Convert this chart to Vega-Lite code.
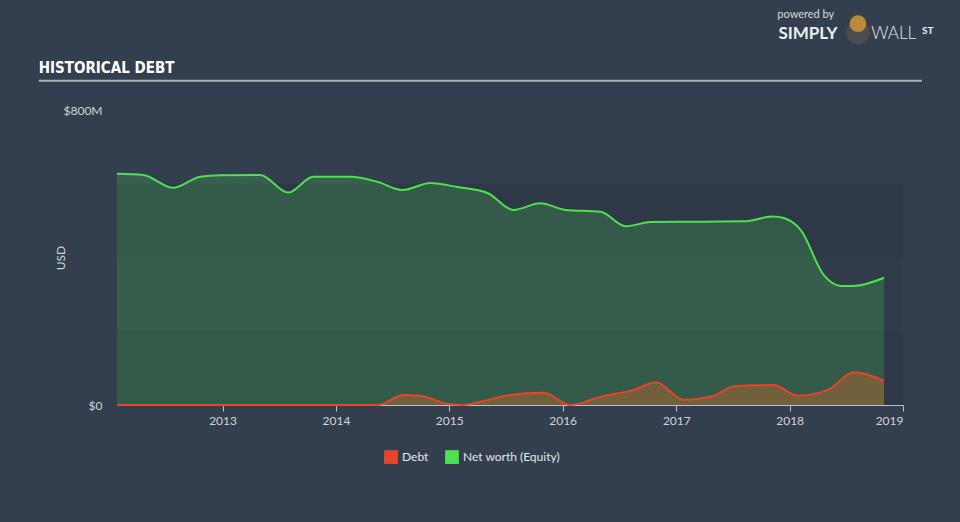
{
  "$schema": "https://vega.github.io/schema/vega-lite/v6.json",
  "width": 786,
  "height": 295,
  "autosize": {"type": "none"},
  "padding": {"left": 117, "top": 110, "right": 57, "bottom": 117},
  "background": "#333f4f",
  "config": {"view": {"stroke": null}, "font": "Lato"},
  "datasets": {
    "series": [
      {"date": "2012-01-27", "series": "Net worth (Equity)", "value": 627},
      {"date": "2012-04-20", "series": "Net worth (Equity)", "value": 624},
      {"date": "2012-07-26", "series": "Net worth (Equity)", "value": 589},
      {"date": "2012-10-21", "series": "Net worth (Equity)", "value": 619},
      {"date": "2012-12-25", "series": "Net worth (Equity)", "value": 623},
      {"date": "2013-05-02", "series": "Net worth (Equity)", "value": 624},
      {"date": "2013-07-31", "series": "Net worth (Equity)", "value": 576},
      {"date": "2013-10-20", "series": "Net worth (Equity)", "value": 619},
      {"date": "2014-02-17", "series": "Net worth (Equity)", "value": 619},
      {"date": "2014-05-15", "series": "Net worth (Equity)", "value": 605},
      {"date": "2014-08-04", "series": "Net worth (Equity)", "value": 583},
      {"date": "2014-11-01", "series": "Net worth (Equity)", "value": 602},
      {"date": "2015-01-27", "series": "Net worth (Equity)", "value": 591},
      {"date": "2015-05-04", "series": "Net worth (Equity)", "value": 575},
      {"date": "2015-07-26", "series": "Net worth (Equity)", "value": 529},
      {"date": "2015-10-21", "series": "Net worth (Equity)", "value": 547},
      {"date": "2016-01-10", "series": "Net worth (Equity)", "value": 529},
      {"date": "2016-05-02", "series": "Net worth (Equity)", "value": 524},
      {"date": "2016-07-22", "series": "Net worth (Equity)", "value": 485},
      {"date": "2016-10-11", "series": "Net worth (Equity)", "value": 496},
      {"date": "2017-03-20", "series": "Net worth (Equity)", "value": 497},
      {"date": "2017-08-07", "series": "Net worth (Equity)", "value": 498},
      {"date": "2017-11-08", "series": "Net worth (Equity)", "value": 511},
      {"date": "2017-12-13", "series": "Net worth (Equity)", "value": 507},
      {"date": "2018-02-06", "series": "Net worth (Equity)", "value": 474},
      {"date": "2018-04-21", "series": "Net worth (Equity)", "value": 352},
      {"date": "2018-06-15", "series": "Net worth (Equity)", "value": 323},
      {"date": "2018-07-27", "series": "Net worth (Equity)", "value": 323},
      {"date": "2018-11-01", "series": "Net worth (Equity)", "value": 345},
      {"date": "2012-01-27", "series": "Debt", "value": 0},
      {"date": "2014-05-15", "series": "Debt", "value": 0},
      {"date": "2014-08-07", "series": "Debt", "value": 27},
      {"date": "2014-09-30", "series": "Debt", "value": 25},
      {"date": "2014-12-26", "series": "Debt", "value": 3},
      {"date": "2015-02-16", "series": "Debt", "value": 0},
      {"date": "2015-04-21", "series": "Debt", "value": 11},
      {"date": "2015-07-17", "series": "Debt", "value": 27},
      {"date": "2015-10-31", "series": "Debt", "value": 33},
      {"date": "2016-01-26", "series": "Debt", "value": 0},
      {"date": "2016-05-02", "series": "Debt", "value": 22},
      {"date": "2016-08-17", "series": "Debt", "value": 41},
      {"date": "2016-10-27", "series": "Debt", "value": 62},
      {"date": "2017-01-25", "series": "Debt", "value": 14},
      {"date": "2017-05-02", "series": "Debt", "value": 25},
      {"date": "2017-07-05", "series": "Debt", "value": 51},
      {"date": "2017-11-11", "series": "Debt", "value": 54},
      {"date": "2018-01-27", "series": "Debt", "value": 25},
      {"date": "2018-05-04", "series": "Debt", "value": 41},
      {"date": "2018-07-27", "series": "Debt", "value": 89},
      {"date": "2018-11-01", "series": "Debt", "value": 65}
    ],
    "bands": [
      {"lo": 0, "hi": 200, "kind": "dark"},
      {"lo": 200, "hi": 400, "kind": "mid"},
      {"lo": 400, "hi": 600, "kind": "dark"}
    ]
  },
  "layer": [
    {
      "data": {"name": "bands"},
      "mark": {"type": "rect"},
      "encoding": {
        "y": {"field": "lo", "type": "quantitative", "scale": {"domain": [0, 800], "nice": false}},
        "y2": {"field": "hi"},
        "fill": {"field": "kind", "type": "nominal", "scale": {"domain": ["dark", "mid"], "range": ["#2e3948", "#313c4b"]}, "legend": null}
      }
    },
    {
      "data": {"name": "series"},
      "transform": [{"filter": "datum.series == 'Net worth (Equity)'"}],
      "mark": {"type": "area", "interpolate": "monotone", "color": "#4fe04f", "opacity": 0.2},
      "encoding": {
        "x": {"field": "date", "type": "temporal",
              "scale": {"domain": [{"year": 2012, "month": 1, "date": 27}, {"year": 2019, "month": 1, "date": 1}], "nice": false},
              "axis": {"values": [{"year": 2013}, {"year": 2014}, {"year": 2015}, {"year": 2016}, {"year": 2017}, {"year": 2018}, {"year": 2019}],
                       "format": "%Y", "title": null, "grid": false, "domainColor": "#b8c0ca", "tickColor": "#b8c0ca", "tickSize": 6,
                       "labelColor": "#d0d4da", "labelFontSize": 12, "labelPadding": 4, "labelFont": "Lato"}},
        "y": {"field": "value", "type": "quantitative", "stack": null,
              "scale": {"domain": [0, 800], "nice": false},
              "axis": {"values": [0, 800], "labelExpr": "datum.value == 0 ? '$0' : '$' + datum.value + 'M'",
                       "title": "USD", "titleColor": "#d0d4da", "titleFontSize": 12, "titleFontWeight": "normal", "titleFont": "Lato", "titleX": -50,
                       "grid": false, "domain": false, "ticks": false, "labelPadding": 15,
                       "labelColor": "#d0d4da", "labelFontSize": 12, "labelFont": "Lato"}}
      }
    },
    {
      "data": {"name": "series"},
      "transform": [{"filter": "datum.series == 'Debt'"}],
      "mark": {"type": "area", "interpolate": "monotone", "color": "#d0682e", "opacity": 0.4},
      "encoding": {
        "x": {"field": "date", "type": "temporal", "scale": {"domain": [{"year": 2012, "month": 1, "date": 27}, {"year": 2019, "month": 1, "date": 1}], "nice": false}},
        "y": {"field": "value", "type": "quantitative", "stack": null, "scale": {"domain": [0, 800], "nice": false}}
      }
    },
    {
      "data": {"name": "series"},
      "mark": {"type": "line", "interpolate": "monotone", "strokeWidth": 2},
      "encoding": {
        "x": {"field": "date", "type": "temporal", "scale": {"domain": [{"year": 2012, "month": 1, "date": 27}, {"year": 2019, "month": 1, "date": 1}], "nice": false}},
        "y": {"field": "value", "type": "quantitative", "scale": {"domain": [0, 800], "nice": false}},
        "color": {"field": "series", "type": "nominal",
                  "scale": {"domain": ["Debt", "Net worth (Equity)"], "range": ["#e6452a", "#4fe04f"]},
                  "legend": {"title": null, "orient": "none", "direction": "horizontal", "legendX": 267, "legendY": 340,
                             "symbolType": "square", "symbolSize": 190, "symbolStrokeWidth": 0,
                             "labelColor": "#e4e6ea", "labelFontSize": 12, "labelFont": "Lato", "columnPadding": 16,
                             "encode": {"symbols": {"update": {"fill": {"scale": "color", "field": "value"}, "fillOpacity": {"value": 1}, "opacity": {"value": 1}}}}}}
      }
    },
    {
      "data": {"values": [{}]},
      "mark": {"type": "rule", "color": "#a8b0b9", "strokeWidth": 2},
      "encoding": {
        "x": {"datum": {"year": 2011, "month": 5, "date": 20}, "type": "temporal"},
        "x2": {"datum": {"year": 2019, "month": 3, "date": 3}},
        "y": {"datum": 879, "type": "quantitative"}
      }
    },
    {
      "data": {"values": [{"label": "HISTORICAL DEBT", "d": "2011-05-20", "v": 914}]},
      "mark": {"type": "text", "align": "left", "baseline": "middle", "font": "DejaVu Sans Condensed", "fontWeight": "bold", "fontSize": 15, "color": "#ffffff"},
      "encoding": {
        "x": {"field": "d", "type": "temporal"},
        "y": {"field": "v", "type": "quantitative"},
        "text": {"field": "label"}
      }
    },
    {
      "data": {"values": [{"label": "powered by", "d": "2018-02-22", "v": 1058}]},
      "mark": {"type": "text", "align": "center", "baseline": "middle", "fontSize": 11, "color": "#d8dadf"},
      "encoding": {
        "x": {"field": "d", "type": "temporal"},
        "y": {"field": "v", "type": "quantitative"},
        "text": {"field": "label"}
      }
    },
    {
      "data": {"values": [{"label": "WALL", "d": "2018-12-02", "v": 1005}]},
      "mark": {"type": "text", "align": "center", "baseline": "middle", "fontSize": 17, "fontWeight": 300, "color": "#e4e6ea"},
      "encoding": {
        "x": {"field": "d", "type": "temporal"},
        "y": {"field": "v", "type": "quantitative"},
        "text": {"field": "label"}
      }
    },
    {
      "data": {"values": [{"label": "SIMPLY", "d": "2018-03-01", "v": 1005}]},
      "mark": {"type": "text", "align": "center", "baseline": "middle", "fontSize": 17, "fontWeight": "bold", "color": "#eceef0"},
      "encoding": {
        "x": {"field": "d", "type": "temporal"},
        "y": {"field": "v", "type": "quantitative"},
        "text": {"field": "label"}
      }
    },
    {
      "data": {"values": [{"label": "ST", "d": "2019-03-22", "v": 1014}]},
      "mark": {"type": "text", "align": "center", "baseline": "middle", "fontSize": 10, "fontWeight": "bold", "color": "#eceef0"},
      "encoding": {
        "x": {"field": "d", "type": "temporal"},
        "y": {"field": "v", "type": "quantitative"},
        "text": {"field": "label"}
      }
    },
    {
      "data": {"values": [{"part": "suit", "d": "2018-08-09", "v": 1010}]},
      "mark": {"type": "circle", "opacity": 1, "size": 560, "color": "#4a4c50"},
      "encoding": {
        "x": {"field": "d", "type": "temporal"},
        "y": {"field": "v", "type": "quantitative"}
      }
    },
    {
      "data": {"values": [{"part": "head", "d": "2018-08-09", "v": 1034}]},
      "mark": {"type": "circle", "opacity": 1, "size": 280, "color": "#b98a3a"},
      "encoding": {
        "x": {"field": "d", "type": "temporal"},
        "y": {"field": "v", "type": "quantitative"}
      }
    }
  ]
}
